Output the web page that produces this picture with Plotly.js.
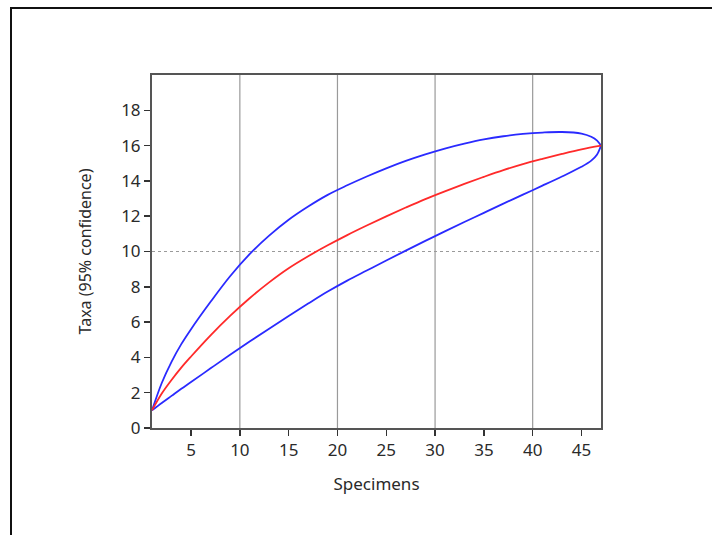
<!DOCTYPE html>
<html>
<head>
<meta charset="utf-8">
<script src="https://cdn.plot.ly/plotly-3.0.1.min.js"></script>
<style>
  html, body { margin: 0; padding: 0; background: #fff; }
  #chart { width: 712px; height: 535px; }
  #frame { position: absolute; left: 10px; top: 7px; width: 720px; height: 540px;
           border-top: 2px solid #111; border-left: 2px solid #111; pointer-events: none; }
</style>
</head>
<body>
<div id="chart"></div>
<div id="frame"></div>
<script>
// Rarefaction curve (mean) and 95% confidence bounds
const meanX  = [1, 2, 3, 4, 5, 7, 9, 11, 13, 15, 17, 19, 21, 23, 25, 27, 29, 31, 33, 35, 37, 39, 41, 43, 45, 47];
const meanY  = [1, 1.95, 2.72, 3.42, 4.05, 5.25, 6.35, 7.35, 8.25, 9.05, 9.73, 10.35, 10.93, 11.47, 11.99, 12.49, 12.97, 13.41,
                13.83, 14.23, 14.61, 14.95, 15.25, 15.53, 15.79, 16.0];

const upperX = [1, 2, 3, 4, 5, 7, 9, 11, 13, 15, 17, 19, 21, 23, 25, 27, 29, 31, 33, 35, 37, 39, 41, 43, 45, 46, 46.6, 47];
const upperY = [1, 2.55, 3.75, 4.75, 5.6, 7.15, 8.6, 9.85, 10.9, 11.8, 12.55, 13.21, 13.75, 14.25, 14.71, 15.13, 15.5, 15.83,
                16.11, 16.35, 16.53, 16.66, 16.74, 16.77, 16.68, 16.5, 16.28, 16.0];

const lowerX = [1, 2, 3, 4, 5, 7, 9, 11, 13, 15, 17, 19, 21, 23, 25, 27, 29, 31, 33, 35, 37, 39, 41, 43, 45, 46, 46.6, 47];
const lowerY = [1, 1.42, 1.82, 2.22, 2.6, 3.38, 4.15, 4.9, 5.63, 6.35, 7.05, 7.73, 8.35, 8.92, 9.49, 10.05, 10.6, 11.14,
                11.67, 12.19, 12.71, 13.22, 13.73, 14.25, 14.8, 15.15, 15.5, 16.0];

const xTicks = [5, 10, 15, 20, 25, 30, 35, 40, 45];
const yTicks = [0, 2, 4, 6, 8, 10, 12, 14, 16, 18];
const xGrid  = [10, 20, 30, 40];
const yGrid  = [10];

const xTitle = "Specimens";
const yTitle = "Taxa (95% confidence)";

const lineCommon = { shape: 'spline', smoothing: 1, width: 1.8 };

const traces = [
  { x: upperX, y: upperY, mode: 'lines', line: Object.assign({ color: '#2a2aff' }, lineCommon), hoverinfo: 'skip' },
  { x: lowerX, y: lowerY, mode: 'lines', line: Object.assign({ color: '#2a2aff' }, lineCommon), hoverinfo: 'skip' },
  { x: meanX,  y: meanY,  mode: 'lines', line: Object.assign({ color: '#ff2a2a' }, lineCommon), hoverinfo: 'skip' }
];

const shapes = [];
xGrid.forEach(v => shapes.push({ type: 'line', layer: 'below', xref: 'x', yref: 'paper', x0: v, x1: v, y0: 0, y1: 1,
  line: { color: '#9a9a9a', width: 1.2 } }));
yGrid.forEach(v => shapes.push({ type: 'line', layer: 'below', xref: 'paper', yref: 'y', x0: 0, x1: 1, y0: v, y1: v,
  line: { color: '#9a9a9a', width: 1, dash: 'dot' } }));

const font = { family: 'Noto Sans, Open Sans, DejaVu Sans, sans-serif', size: 16, color: '#2a2a2a' };

const layout = {
  width: 712, height: 535,
  margin: { l: 152, r: 111, t: 75, b: 107 },
  paper_bgcolor: '#fff', plot_bgcolor: '#fff',
  showlegend: false,
  font: font,
  shapes: shapes,
  xaxis: {
    range: [1, 47], tickvals: xTicks, ticktext: xTicks.map(String),
    ticks: 'outside', ticklen: 6, tickwidth: 1.5, tickcolor: '#333',
    showgrid: false, zeroline: false,
    showline: true, mirror: true, linecolor: '#555', linewidth: 2,
    tickfont: { size: 17, color: '#2a2a2a' },
    title: { text: xTitle, font: { size: 17, color: '#2a2a2a' }, standoff: 18 }
  },
  yaxis: {
    range: [0, 20], tickvals: yTicks, ticktext: yTicks.map(String),
    ticks: 'outside', ticklen: 6, tickwidth: 1.5, tickcolor: '#333',
    showgrid: false, zeroline: false,
    showline: true, mirror: true, linecolor: '#555', linewidth: 2,
    tickfont: { size: 17, color: '#2a2a2a' },
    title: { text: yTitle, font: { size: 16, color: '#2a2a2a' }, standoff: 26 }
  }
};

Plotly.newPlot('chart', traces, layout, { displayModeBar: false, staticPlot: true });
</script>
</body>
</html>
